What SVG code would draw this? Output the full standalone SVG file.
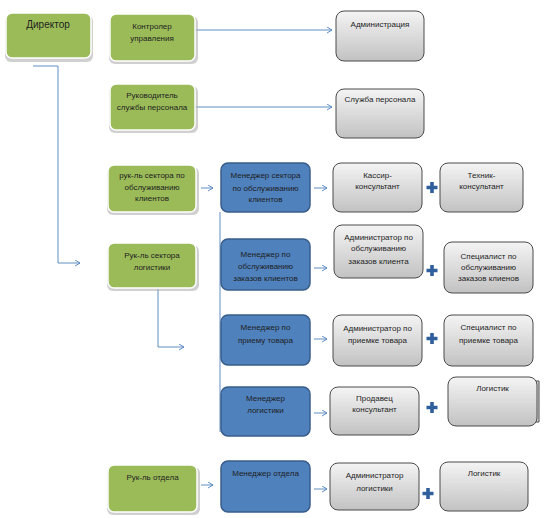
<svg xmlns="http://www.w3.org/2000/svg" width="547" height="518" viewBox="0 0 547 518">
<defs>
<linearGradient id="gg" x1="0" y1="0" x2="0" y2="1">
<stop offset="0" stop-color="#f4f4f4"/>
<stop offset="1" stop-color="#c2c2c2"/>
</linearGradient>
<marker id="ar" markerWidth="7" markerHeight="7" refX="6" refY="3.5" orient="auto" markerUnits="userSpaceOnUse">
<path d="M1,0.5 L6,3.5 L1,6.5" fill="none" stroke="#4f81bd" stroke-width="0.9"/>
</marker>
</defs>
<style>
text{font-family:"Liberation Sans",Arial,sans-serif;font-size:8px;fill:#1e1e1e;text-anchor:middle}
.g{fill:#9bbb59;stroke:#ffffff;stroke-width:1.5}
.gs{fill:#b0b0b0;opacity:0.6}
.b{fill:#4f81bd;stroke:#385d8a;stroke-width:1.5}
.y{fill:url(#gg);stroke:#4a4a4a;stroke-width:1}
.c{fill:none;stroke:#4f81bd;stroke-width:0.9}
.a{marker-end:url(#ar)}
.p{fill:none;stroke:#2e5f9c;stroke-width:3.6}
</style>
<rect width="547" height="518" fill="#ffffff"/>

<g id="connectors">
<path class="c a" d="M33,66 H58 V263 H80"/>
<path class="c a" d="M195,30 H332"/>
<path class="c a" d="M195,107 H332"/>
<path class="c a" d="M201,188 H213"/>
<path class="c a" d="M314,188 H327"/>
<path class="c" d="M220,212 V432"/>
<path class="c a" d="M314,268 H327"/>
<path class="c a" d="M158,289 V347 H184"/>
<path class="c a" d="M314,339 H327"/>
<path class="c a" d="M314,413 H327"/>
<path class="c a" d="M201,485 H213"/>
<path class="c a" d="M314,489 H327"/>
</g>

<g id="director">
<rect class="gs" x="5" y="15" width="88" height="47" rx="6"/>
<rect class="g" x="6" y="13" width="85" height="45" rx="6"/>
<text x="48" y="28" style="font-size:10px">Директор</text>
</g>

<g id="controller">
<rect class="gs" x="109" y="16" width="89" height="48" rx="6"/>
<rect class="g" x="110" y="14" width="85" height="47" rx="6"/>
<text x="152" y="29">Контролер</text>
<text x="152" y="41">управления</text>
</g>

<g id="administration">
<rect class="y" x="336" y="11" width="88" height="50" rx="8"/>
<text x="380" y="27">Администрация</text>
</g>

<g id="hr-head">
<rect class="gs" x="109" y="86" width="89" height="47" rx="6"/>
<rect class="g" x="110" y="84" width="85" height="46" rx="6"/>
<text x="152" y="98">Руководитель</text>
<text x="152" y="110">службы персонала</text>
</g>

<g id="hr-service">
<rect class="y" x="336" y="89" width="88" height="49" rx="8"/>
<text x="380" y="102">Служба персонала</text>
</g>

<g id="client-sector-head">
<rect class="gs" x="107" y="167" width="92" height="48" rx="6"/>
<rect class="g" x="108" y="165" width="88" height="47" rx="6"/>
<text x="152" y="178">рук-ль сектора по</text>
<text x="152" y="190">обслуживанию</text>
<text x="152" y="201">клиентов</text>
</g>

<g id="client-sector-manager">
<rect class="b" x="221" y="163" width="89" height="49" rx="7"/>
<text x="265.5" y="178">Менеджер сектора</text>
<text x="265.5" y="191">по обслуживанию</text>
<text x="265.5" y="202">клиентов</text>
</g>

<g id="cashier">
<rect class="y" x="333" y="163" width="89" height="49" rx="8"/>
<text x="377.5" y="178">Кассир-</text>
<text x="377.5" y="189">консультант</text>
</g>

<g id="technician">
<rect class="y" x="440" y="163" width="83" height="49" rx="8"/>
<text x="481.5" y="178">Техник-</text>
<text x="481.5" y="189">консультант</text>
</g>

<g id="logistics-head">
<rect class="gs" x="107" y="245" width="92" height="46" rx="6"/>
<rect class="g" x="108" y="243" width="88" height="45" rx="6"/>
<text x="152" y="258">Рук-ль сектора</text>
<text x="152" y="270">логистики</text>
</g>

<g id="order-manager">
<rect class="b" x="221" y="239" width="89" height="51" rx="7"/>
<text x="265.5" y="257">Менеджер по</text>
<text x="265.5" y="269">обслуживанию</text>
<text x="265.5" y="281">заказов клиентов</text>
</g>

<g id="order-admin">
<rect class="y" x="334" y="225" width="89" height="53" rx="8"/>
<text x="378.5" y="240">Администратор по</text>
<text x="378.5" y="251">обслуживанию</text>
<text x="378.5" y="264">заказов клиента</text>
</g>

<g id="order-specialist">
<rect class="y" x="444" y="242" width="89" height="51" rx="8"/>
<text x="488.5" y="259">Специалист по</text>
<text x="488.5" y="270">обслуживанию</text>
<text x="488.5" y="281">заказов клиенов</text>
</g>

<g id="receiving-manager">
<rect class="b" x="221" y="315" width="89" height="50" rx="7"/>
<text x="265.5" y="330">Менеджер по</text>
<text x="265.5" y="343">приему товара</text>
</g>

<g id="receiving-admin">
<rect class="y" x="333" y="315" width="89" height="51" rx="8"/>
<text x="377.5" y="331">Администратор по</text>
<text x="377.5" y="343">приемке товара</text>
</g>

<g id="receiving-specialist">
<rect class="y" x="444" y="315" width="89" height="51" rx="8"/>
<text x="488.5" y="330">Специалист по</text>
<text x="488.5" y="343">приемке товара</text>
</g>

<g id="logistics-manager">
<rect class="b" x="221" y="387" width="89" height="49" rx="7"/>
<text x="265.5" y="401">Менеджер</text>
<text x="265.5" y="413">логистики</text>
</g>

<g id="seller">
<rect class="y" x="330" y="387" width="89" height="48" rx="8"/>
<text x="374.5" y="401">Продавец</text>
<text x="374.5" y="412">консультант</text>
</g>

<g id="logist">
<path d="M530,381 H539 V422 H530" fill="#d8d8d8" stroke="#4a4a4a" stroke-width="1"/>
<rect class="y" x="448" y="377" width="89" height="49" rx="8"/>
<text x="492.5" y="391">Логистик</text>
</g>

<g id="dept-head">
<rect class="gs" x="107" y="467" width="93" height="48" rx="6"/>
<rect class="g" x="108" y="465" width="89" height="47" rx="6"/>
<text x="152.5" y="480">Рук-ль отдела</text>
</g>

<g id="dept-manager">
<rect class="b" x="221" y="461" width="89" height="51" rx="7"/>
<text x="265.5" y="476">Менеджер отдела</text>
</g>

<g id="logistics-admin">
<rect class="y" x="330" y="463" width="89" height="47" rx="8"/>
<text x="374.5" y="478">Администратор</text>
<text x="374.5" y="491">логистики</text>
</g>

<g id="logist-2">
<rect class="y" x="440" y="462" width="88" height="49" rx="8"/>
<text x="484" y="476">Логистик</text>
</g>

<g id="plus-signs">
<path class="p" d="M432,182 V193 M426.5,187.5 H437.5"/>
<path class="p" d="M432,265 V276 M426.5,270.5 H437.5"/>
<path class="p" d="M432,333 V344 M426.5,338.5 H437.5"/>
<path class="p" d="M432,402 V413 M426.5,407.5 H437.5"/>
<path class="p" d="M428,488 V499 M422.5,493.5 H433.5"/>
</g>
</svg>
